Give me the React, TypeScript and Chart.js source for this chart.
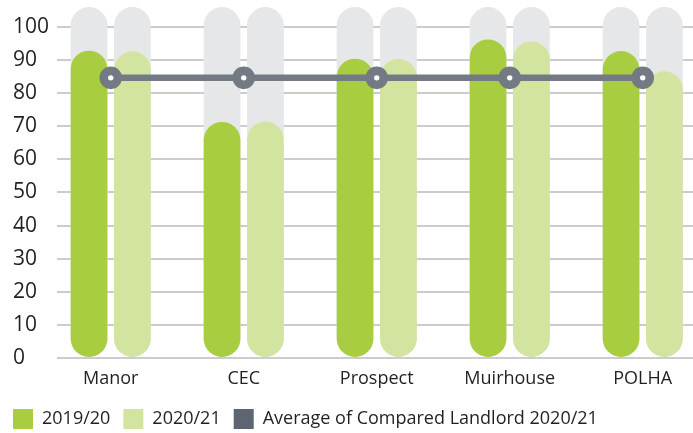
import React, { useEffect, useRef } from "react";
import { Chart, registerables } from "chart.js";

Chart.register(...registerables);

const CATEGORIES = ["Manor", "CEC", "Prospect", "Muirhouse", "POLHA"];
const SERIES_2019 = [92.8, 71.3, 90.4, 96.2, 92.7];
const SERIES_2020 = [92.6, 71.4, 90.3, 95.6, 86.6];
const AVERAGE = [84.6, 84.6, 84.6, 84.6, 84.6];
const TRACK = [106, 106, 106, 106, 106];
const LEGEND_LABELS = ["2019/20", "2020/21", "Average of Compared Landlord 2020/21"];

const DARK_GREEN = "#a9cd41";
const LIGHT_GREEN = "#d3e4a0";
const TRACK_GREY = "#e6e7e8";
const LINE_GREY = "#747a84";
const LEGEND_GREY = "#5d6670";
const TEXT = "#231f20";
const FONT = "'Open Sans', sans-serif";

const pts = (vals: number[]) => vals.map((y, i) => ({ x: i, y }));

export default function App() {
  const ref = useRef<HTMLCanvasElement | null>(null);
  useEffect(() => {
    if (!ref.current) return;
    const barCommon = {
      borderRadius: 40,
      borderSkipped: false,
      categoryPercentage: 0.652,
      barPercentage: 0.847,
    };
    const chart = new Chart(ref.current, {
      type: "bar",
      data: {
        datasets: [
          {
            type: "line",
            label: LEGEND_LABELS[2],
            data: pts(AVERAGE),
            borderColor: LINE_GREY,
            borderWidth: 6.5,
            pointRadius: 7,
            pointBorderWidth: 8.6,
            pointBackgroundColor: "#ffffff",
            pointBorderColor: LINE_GREY,
            order: 0,
          } as any,
          { label: LEGEND_LABELS[0], data: pts(SERIES_2019), stack: "a", backgroundColor: DARK_GREEN, ...barCommon, order: 1 },
          { label: LEGEND_LABELS[1], data: pts(SERIES_2020), stack: "b", backgroundColor: LIGHT_GREEN, ...barCommon, order: 1 },
          { label: "track1", data: pts(TRACK), stack: "a", backgroundColor: TRACK_GREY, ...barCommon, order: 2 },
          { label: "track2", data: pts(TRACK), stack: "b", backgroundColor: TRACK_GREY, ...barCommon, order: 2 },
        ],
      },
      options: {
        animation: false,
        responsive: true,
        maintainAspectRatio: false,
        layout: { autoPadding: false, padding: { top: 7, right: 0, bottom: -6, left: 0 } },
        plugins: {
          tooltip: { enabled: false },
          legend: {
            position: "bottom",
            align: "start",
            labels: {
              boxWidth: 20,
              boxHeight: 20,
              padding: 13,
              color: TEXT,
              font: { family: FONT, size: 18 },
              generateLabels: () =>
                LEGEND_LABELS.map((text, i) => ({
                  text,
                  fillStyle: [DARK_GREEN, LIGHT_GREEN, LEGEND_GREY][i],
                  strokeStyle: [DARK_GREEN, LIGHT_GREEN, LEGEND_GREY][i],
                  lineWidth: 0,
                  hidden: false,
                  datasetIndex: i,
                  fontColor: TEXT,
                })),
            },
          },
        },
        scales: {
          x: {
            type: "linear",
            min: -0.404,
            max: 4.378,
            offset: false,
            position: "bottom",
            grid: { display: false },
            border: { display: false },
            ticks: {
              stepSize: 1,
              includeBounds: false,
              autoSkip: false,
              maxRotation: 0,
              padding: 2,
              color: TEXT,
              font: { family: FONT, size: 18 },
              callback: (v: any) => CATEGORIES[v] ?? "",
            },
            afterFit: (s: any) => {
              s.height = 38;
              s.paddingLeft = 0;
              s.paddingRight = 0;
            },
          },
          y: {
            type: "linear",
            min: 0,
            max: 106,
            stacked: false,
            position: "left",
            border: { display: false },
            grid: { color: "#cccccc", lineWidth: 2, drawTicks: false },
            ticks: {
              stepSize: 10,
              includeBounds: false,
              crossAlign: "far",
              padding: 0,
              color: TEXT,
              font: { family: FONT, size: 21, lineHeight: 0.1 },
            },
            afterFit: (s: any) => {
              s.width = 44;
              s.paddingTop = 0;
              s.paddingBottom = 0;
            },
          },
          yPad: {
            type: "linear",
            position: "left",
            weight: 10,
            grid: { display: false },
            border: { display: false },
            ticks: { display: false },
            afterFit: (s: any) => {
              s.width = 13;
              s.paddingTop = 0;
              s.paddingBottom = 0;
            },
          },
        },
      } as any,
    });
    return () => chart.destroy();
  }, []);
  return (
    <div style={{ position: "absolute", left: 0, top: 0, width: 693, height: 433 }}>
      <canvas ref={ref} />
    </div>
  );
}
